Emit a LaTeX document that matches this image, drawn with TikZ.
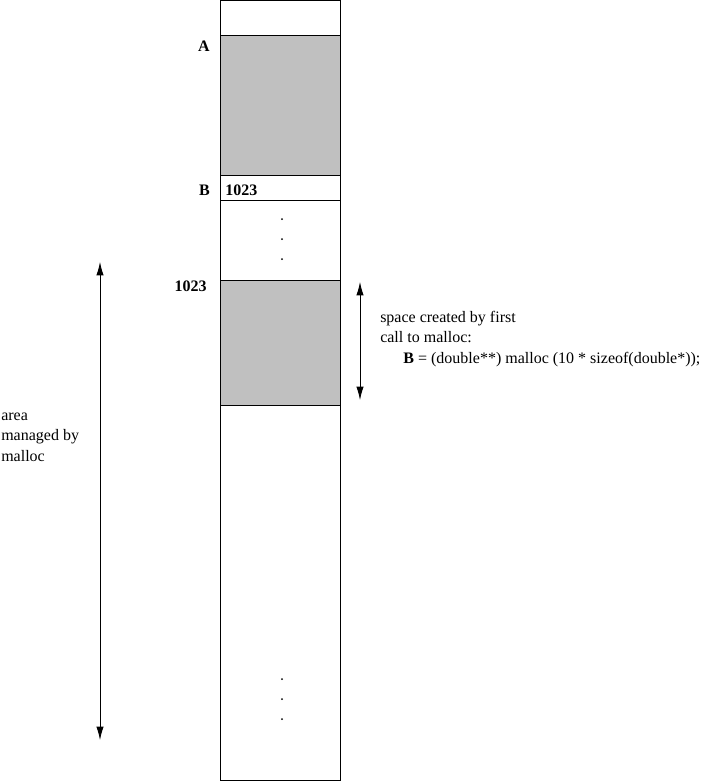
\documentclass[tikz,border=0pt]{standalone}
\usepackage{fontspec}
\setmainfont{Liberation Serif}
\usetikzlibrary{positioning,arrows.meta}
\definecolor{memgray}{RGB}{192,192,192}
\tikzset{
  cell/.style={draw, line width=0.8pt, inner sep=0pt, outer sep=0pt, minimum width=90pt},
  lbl/.style={inner sep=0pt, font=\fontsize{12}{15}\selectfont\bfseries},
  note/.style={inner sep=0pt, align=left, anchor=base west, font=\fontsize{12}{15.3}\selectfont},
  span/.style={{Latex[length=10pt,width=5.5pt]}-{Latex[length=10pt,width=5.5pt]}, line width=0.6pt}
}
\begin{document}
\begin{tikzpicture}[x=0.75pt, y=-0.75pt]
  \useasboundingbox (0,0) rectangle (708,783);

  % memory column
  \node[cell, minimum height=26.25pt, anchor=north west] (top) at (220.5,0.5) {};
  \node[cell, fill=memgray, minimum height=105pt, below=0pt of top] (blkA) {};
  \node[cell, minimum height=18.75pt, below=0pt of blkA] (cellB) {};
  \node[cell, minimum height=60pt, below=0pt of cellB] (gap) {};
  \node[cell, fill=memgray, minimum height=93.75pt, below=0pt of gap] (blkB) {};
  \node[cell, minimum height=281pt, below=0pt of blkB] (rest) {};

  \node[lbl, anchor=base east] (labA) at (210,51) {A};
  \node[lbl, anchor=base east] (labB) at (210,195) {B};
  \node[lbl, anchor=base west] (val) at (225,195) {1023};
  \node[lbl, anchor=base east] (adr) at (207,291) {1023};

  \foreach \y in {219,239,259,679,699,719}
    \fill (282,\y) circle (1);

  % arrows
  \coordinate (s1) at (360,282);
  \coordinate (s2) at (360,400);
  \coordinate (m1) at (100,262);
  \coordinate (m2) at (100,740);
  \draw[span] (s1) -- (s2);
  \draw[span] (m1) -- (m2);

  \node[note] (space) at (380,363) {space created by first\\call to malloc:\\
    \hspace*{1.45em}\textbf{B} = (double**) malloc (10 * sizeof(double*));};
  \node[note] (area) at (1,461) {area\\managed by\\malloc};
\end{tikzpicture}
\end{document}
